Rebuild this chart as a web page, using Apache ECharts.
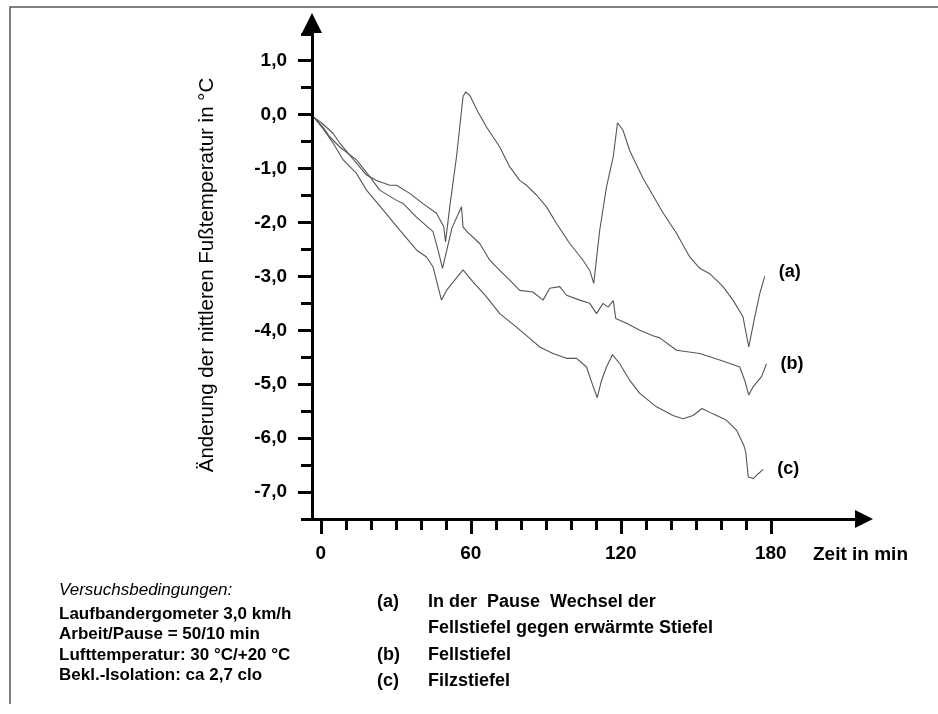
<!DOCTYPE html>
<html>
<head>
<meta charset="utf-8">
<script src="https://cdn.jsdelivr.net/npm/echarts@6/dist/echarts.min.js"></script>
<style>
  html, body { margin: 0; padding: 0; background: #fff; }
  #main { width: 938px; height: 714px; }
</style>
</head>
<body>
<div id="main"></div>
<script>
// Zeit in min / Änderung der Fußtemperatur in °C
const timeA = [-2.7, 0.5, 5, 7.6, 11.6, 18.3, 22.3, 27.6, 30.3, 35.6, 40.9, 46.3, 49.2, 49.9, 51.6, 54.3, 56.9, 57.9, 59.6, 62.9, 66.3, 71.6, 75.6, 79.6, 82.3, 86.3, 90.3, 94.3, 99.6, 104.9, 107.6, 109.2, 111.6, 114.3, 117, 118.7, 120.9, 123.6, 128.9, 132.9, 137, 142.3, 147.6, 151.6, 155.6, 160.9, 164.9, 168.9, 171.2, 173.6, 175.6, 177.6];
const valA = [-0.05, -0.16, -0.35, -0.53, -0.75, -1.12, -1.22, -1.31, -1.31, -1.46, -1.65, -1.83, -2.08, -2.36, -1.71, -0.78, 0.33, 0.42, 0.36, 0.05, -0.23, -0.6, -0.97, -1.22, -1.31, -1.49, -1.71, -2.02, -2.39, -2.70, -2.89, -3.13, -2.14, -1.34, -0.78, -0.15, -0.29, -0.67, -1.18, -1.50, -1.83, -2.20, -2.64, -2.85, -2.95, -3.19, -3.44, -3.75, -4.31, -3.75, -3.32, -3.0];

const timeB = [-2.7, 0.9, 3.6, 7.6, 14.3, 19.6, 23.6, 30.3, 33, 38.3, 44.9, 46.9, 48.7, 52.5, 56.3, 56.9, 58.5, 63.6, 67.6, 71.6, 75.6, 79.6, 84.9, 88.9, 91.6, 95.6, 98.3, 103.6, 107.6, 110.3, 112.9, 114.9, 117, 118, 122.3, 127.6, 132.9, 135.6, 142.3, 151.6, 159.6, 167.6, 169.6, 171.2, 172.9, 176.3, 178.3];
const valB = [-0.05, -0.23, -0.41, -0.60, -0.84, -1.15, -1.40, -1.59, -1.65, -1.90, -2.17, -2.51, -2.85, -2.1, -1.71, -2.08, -2.17, -2.39, -2.70, -2.89, -3.07, -3.26, -3.29, -3.44, -3.22, -3.19, -3.35, -3.44, -3.50, -3.69, -3.50, -3.57, -3.45, -3.78, -3.87, -4.0, -4.10, -4.14, -4.37, -4.43, -4.55, -4.68, -4.93, -5.20, -5.05, -4.86, -4.62];

const timeC = [-2.7, 0.9, 5, 9, 14.3, 18.3, 25, 31.6, 38.3, 42.3, 44.9, 46.9, 48.3, 50.3, 56.9, 60.9, 66.3, 71.6, 78.3, 83.6, 87.6, 92.9, 98.3, 102.3, 106.3, 109, 110.6, 112.3, 114.3, 116.7, 119.6, 123.6, 127.6, 134.3, 140.9, 144.9, 148.9, 152.5, 156.9, 162.3, 166.3, 169.2, 170, 171, 173, 175, 177];
const valC = [-0.05, -0.26, -0.53, -0.84, -1.09, -1.40, -1.77, -2.14, -2.51, -2.64, -2.82, -3.19, -3.44, -3.26, -2.88, -3.10, -3.38, -3.69, -3.94, -4.15, -4.31, -4.43, -4.52, -4.52, -4.68, -5.05, -5.25, -4.93, -4.68, -4.45, -4.62, -4.93, -5.17, -5.42, -5.58, -5.64, -5.58, -5.45, -5.55, -5.67, -5.85, -6.13, -6.26, -6.72, -6.75, -6.66, -6.58];

const seriesNames = ['(a)', '(b)', '(c)'];

// axis ticks and labels
const xMinorTicks = [0, 10, 20, 30, 40, 50, 60, 70, 80, 90, 100, 110, 120, 130, 140, 150, 160, 170, 180];
const xMajorTicks = [0, 60, 120, 180];
const xLabels = [0, 60, 120, 180];
const yMinorTicks = [-7.5, -7, -6.5, -6, -5.5, -5, -4.5, -4, -3.5, -3, -2.5, -2, -1.5, -1, -0.5, 0, 0.5, 1, 1.5];
const yMajorTicks = [-7, -6, -5, -4, -3, -2, -1, 0, 1];
const yLabels = [-7, -6, -5, -4, -3, -2, -1, 0, 1];

const conditionsTitle = 'Versuchsbedingungen:';
const conditions = ['Laufbandergometer 3,0 km/h', 'Arbeit/Pause = 50/10 min', 'Lufttemperatur: 30 °C/+20 °C', 'Bekl.-Isolation: ca 2,7 clo'];
const legendKeys = ['(a)', '', '(b)', '(c)'];
const legendTexts = ['In der  Pause  Wechsel der', 'Fellstiefel gegen erwärmte Stiefel', 'Fellstiefel', 'Filzstiefel'];

const FONT = '"Liberation Sans", Arial, Helvetica, sans-serif';
const INK = '#000';

function zip(ts, vs) { return ts.map((t, i) => [t, vs[i]]); }

const X_MIN = -3.5, X_MAX = 217.3;
const Y_MIN = -7.5, Y_MAX = 1.7;

const chart = echarts.init(document.getElementById('main'), null, { renderer: 'canvas' });

const textEls = [];
textEls.push({
  type: 'text', left: 59, top: 582,
  style: { text: conditionsTitle, fill: INK, fontSize: 17, fontStyle: 'italic', fontFamily: FONT }
});
conditions.forEach((s, i) => {
  textEls.push({
    type: 'text', left: 59, top: 606 + i * 20.2,
    style: { text: s, fill: INK, fontSize: 17, fontWeight: 'bold', fontFamily: FONT }
  });
});
const legendRows = [593, 619, 646, 672];
legendKeys.forEach((k, i) => {
  if (k) {
    textEls.push({
      type: 'text', left: 377, top: legendRows[i],
      style: { text: k, fill: INK, fontSize: 18, fontWeight: 'bold', fontFamily: FONT }
    });
  }
  textEls.push({
    type: 'text', left: 428, top: legendRows[i],
    style: { text: legendTexts[i], fill: INK, fontSize: 18, fontWeight: 'bold', fontFamily: FONT }
  });
});

const lineStyle = { color: '#555', width: 1.1 };

function makeSeries(name, ts, vs, offsetY) {
  return {
    name: name, type: 'line', data: zip(ts, vs),
    showSymbol: false, symbol: 'none', smooth: false, silent: true,
    lineStyle: lineStyle,
    endLabel: {
      show: true, formatter: name, distance: 14, offset: [0, offsetY],
      color: INK, fontSize: 18, fontWeight: 'bold', fontFamily: FONT
    }
  };
}

chart.setOption({
  animation: false,
  backgroundColor: '#fff',
  grid: { left: 312, top: 23, width: 552, height: 496 },
  xAxis: [
    {
      type: 'value', min: X_MIN, max: X_MAX,
      axisLine: { show: true, onZero: false, lineStyle: { color: INK, width: 3 }, symbol: ['none', 'triangle'], symbolSize: [18, 18] },
      axisTick: { show: true, length: 11, lineStyle: { color: INK, width: 3 }, customValues: xMinorTicks },
      axisLabel: { customValues: xLabels, margin: 25, color: INK, fontSize: 19, fontWeight: 'bold', fontFamily: FONT },
      splitLine: { show: false },
      name: 'Zeit in min', nameLocation: 'end', nameGap: -51,
      nameTextStyle: { color: INK, fontSize: 19, fontWeight: 'bold', fontFamily: FONT, align: 'left', verticalAlign: 'top', padding: [26, 0, 0, 0] }
    },
    {
      type: 'value', min: X_MIN, max: X_MAX, position: 'bottom',
      axisLine: { show: false, onZero: false },
      axisTick: { show: true, length: 15, lineStyle: { color: INK, width: 3 }, customValues: xMajorTicks },
      axisLabel: { show: false },
      splitLine: { show: false }
    }
  ],
  yAxis: [
    {
      type: 'value', min: Y_MIN, max: Y_MAX,
      axisLine: { show: true, onZero: false, lineStyle: { color: INK, width: 3 }, symbol: ['none', 'triangle'], symbolSize: [20, 20] },
      axisTick: { show: true, length: 11, lineStyle: { color: INK, width: 3 }, customValues: yMinorTicks },
      axisLabel: {
        customValues: yLabels, margin: 25, color: INK, fontSize: 19, fontWeight: 'bold', fontFamily: FONT,
        formatter: v => v.toFixed(1).replace('.', ',')
      },
      splitLine: { show: false },
      name: 'Änderung der nittleren Fußtemperatur in °C', nameLocation: 'middle', nameGap: 94,
      nameTextStyle: { color: INK, fontSize: 20.5, fontFamily: FONT, padding: [0, 8, 0, 0] }
    },
    {
      type: 'value', min: Y_MIN, max: Y_MAX, position: 'left',
      axisLine: { show: false, onZero: false },
      axisTick: { show: true, length: 14, lineStyle: { color: INK, width: 3 }, customValues: yMajorTicks },
      axisLabel: { show: false },
      splitLine: { show: false }
    }
  ],
  graphic: [
    { type: 'polyline', silent: true, shape: { points: [[10, 704], [10, 7], [938, 7]] }, style: { stroke: '#555', lineWidth: 1.5, fill: null } }
  ].concat(textEls),
  series: [
    makeSeries(seriesNames[0], timeA, valA, -4),
    makeSeries(seriesNames[1], timeB, valB, 0),
    makeSeries(seriesNames[2], timeC, valC, 0)
  ]
});
</script>
</body>
</html>
